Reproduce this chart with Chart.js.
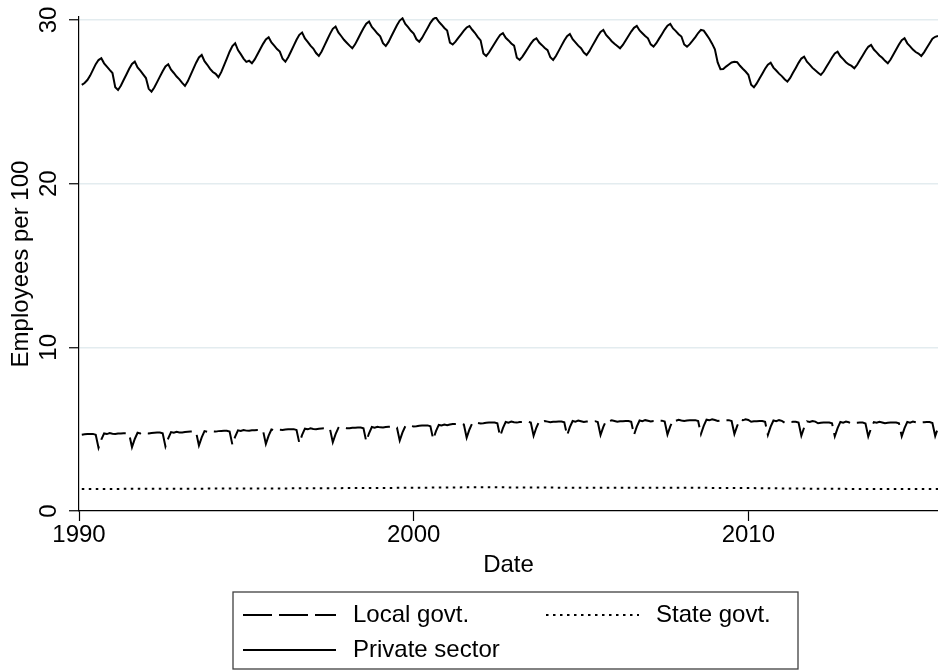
<!DOCTYPE html>
<html>
<head>
<meta charset="utf-8">
<script src="https://cdn.jsdelivr.net/npm/chart.js@4.4.0/dist/chart.umd.min.js"></script>
<style>
  body { margin: 0; background: #fff; }
  #wrap { width: 938px; height: 670px; position: relative; }
</style>
</head>
<body>
<div id="wrap"><canvas id="chart"></canvas></div>
<script>
const startYear = 1990;
const xTicks = [1990, 2000, 2010];
const yTicks = [0, 10, 20, 30];
const seriesNames = ['Local govt.', 'State govt.', 'Private sector'];

// monthly readings, Jan 1990 .. Aug 2015, one row per year
const localGovt = [
  4.66, 4.69, 4.70, 4.71, 4.71, 4.66, 3.86, 4.36, 4.74, 4.70, 4.76, 4.72,
  4.70, 4.73, 4.74, 4.75, 4.75, 4.70, 3.90, 4.40, 4.78, 4.74, 4.80, 4.76,
  4.74, 4.77, 4.78, 4.79, 4.79, 4.74, 3.94, 4.44, 4.82, 4.78, 4.84, 4.80,
  4.80, 4.83, 4.84, 4.85, 4.85, 4.80, 4.00, 4.50, 4.88, 4.84, 4.90, 4.86,
  4.85, 4.88, 4.89, 4.90, 4.90, 4.85, 4.05, 4.55, 4.93, 4.89, 4.95, 4.91,
  4.90, 4.93, 4.94, 4.95, 4.95, 4.90, 4.10, 4.60, 4.98, 4.94, 5.00, 4.96,
  4.95, 4.98, 4.99, 5.00, 5.00, 4.95, 4.15, 4.65, 5.03, 4.99, 5.05, 5.01,
  5.00, 5.03, 5.04, 5.05, 5.05, 5.00, 4.20, 4.70, 5.08, 5.04, 5.10, 5.06,
  5.05, 5.08, 5.09, 5.10, 5.10, 5.05, 4.25, 4.75, 5.13, 5.09, 5.15, 5.11,
  5.10, 5.13, 5.14, 5.15, 5.15, 5.10, 4.30, 4.80, 5.18, 5.14, 5.20, 5.16,
  5.18, 5.21, 5.22, 5.23, 5.23, 5.18, 4.38, 4.88, 5.26, 5.22, 5.28, 5.24,
  5.28, 5.31, 5.32, 5.33, 5.33, 5.28, 4.48, 4.98, 5.36, 5.32, 5.38, 5.34,
  5.36, 5.39, 5.40, 5.41, 5.41, 5.36, 4.56, 5.06, 5.44, 5.40, 5.46, 5.42,
  5.40, 5.43, 5.44, 5.45, 5.45, 5.40, 4.60, 5.10, 5.48, 5.44, 5.50, 5.46,
  5.42, 5.45, 5.46, 5.47, 5.47, 5.42, 4.62, 5.12, 5.50, 5.46, 5.52, 5.48,
  5.44, 5.47, 5.48, 5.49, 5.49, 5.44, 4.64, 5.14, 5.52, 5.48, 5.54, 5.50,
  5.45, 5.48, 5.49, 5.50, 5.50, 5.45, 4.65, 5.15, 5.53, 5.49, 5.55, 5.51,
  5.47, 5.50, 5.51, 5.52, 5.52, 5.47, 4.67, 5.17, 5.55, 5.51, 5.57, 5.53,
  5.50, 5.53, 5.54, 5.55, 5.55, 5.50, 4.70, 5.20, 5.58, 5.54, 5.60, 5.56,
  5.50, 5.53, 5.54, 5.55, 5.55, 5.50, 4.70, 5.20, 5.58, 5.54, 5.60, 5.56,
  5.45, 5.48, 5.49, 5.50, 5.50, 5.45, 4.65, 5.15, 5.53, 5.49, 5.55, 5.51,
  5.40, 5.43, 5.44, 5.45, 5.45, 5.40, 4.60, 5.10, 5.48, 5.44, 5.50, 5.46,
  5.36, 5.39, 5.40, 5.41, 5.41, 5.36, 4.56, 5.06, 5.44, 5.40, 5.46, 5.42,
  5.35, 5.38, 5.39, 5.40, 5.40, 5.35, 4.55, 5.05, 5.43, 5.39, 5.45, 5.41,
  5.36, 5.39, 5.40, 5.41, 5.41, 5.36, 4.56, 5.06, 5.44, 5.40, 5.46, 5.42,
  5.38, 5.41, 5.42, 5.43, 5.43, 5.38, 4.58, 5.08
];

const privateSector = [
  26.03, 26.15, 26.33, 26.60, 26.95, 27.30, 27.55, 27.66, 27.35, 27.15, 26.95, 26.76,
  25.89, 25.72, 25.98, 26.33, 26.67, 27.02, 27.31, 27.45, 27.10, 26.90, 26.67, 26.45,
  25.79, 25.62, 25.87, 26.20, 26.54, 26.87, 27.16, 27.29, 26.96, 26.76, 26.54, 26.37,
  26.16, 25.97, 26.25, 26.63, 27.01, 27.39, 27.71, 27.86, 27.48, 27.26, 27.01, 26.82,
  26.71, 26.50, 26.81, 27.23, 27.64, 28.06, 28.41, 28.58, 28.16, 27.91, 27.64, 27.44,
  27.51, 27.35, 27.59, 27.91, 28.22, 28.54, 28.81, 28.94, 28.62, 28.43, 28.22, 28.07,
  27.63, 27.45, 27.72, 28.07, 28.43, 28.79, 29.09, 29.23, 28.87, 28.66, 28.43, 28.25,
  27.98, 27.80, 28.07, 28.43, 28.79, 29.15, 29.46, 29.60, 29.24, 29.02, 28.79, 28.61,
  28.43, 28.27, 28.51, 28.84, 29.17, 29.49, 29.77, 29.90, 29.57, 29.38, 29.17, 29.00,
  28.58, 28.41, 28.66, 29.00, 29.34, 29.68, 29.96, 30.10, 29.76, 29.56, 29.34, 29.17,
  28.82, 28.67, 28.90, 29.21, 29.51, 29.82, 30.05, 30.15, 29.89, 29.71, 29.51, 29.36,
  28.61, 28.50, 28.67, 28.90, 29.12, 29.35, 29.54, 29.63, 29.40, 29.20, 28.95, 28.75,
  27.95, 27.80, 28.01, 28.29, 28.56, 28.84, 29.08, 29.19, 28.91, 28.75, 28.56, 28.43,
  27.69, 27.56, 27.76, 28.02, 28.29, 28.55, 28.77, 28.88, 28.62, 28.46, 28.29, 28.15,
  27.72, 27.56, 27.80, 28.11, 28.43, 28.75, 29.01, 29.14, 28.82, 28.63, 28.43, 28.27,
  28.01, 27.86, 28.09, 28.40, 28.70, 29.01, 29.27, 29.39, 29.08, 28.90, 28.70, 28.55,
  28.41, 28.27, 28.47, 28.75, 29.02, 29.29, 29.52, 29.63, 29.36, 29.19, 29.02, 28.88,
  28.51, 28.37, 28.58, 28.86, 29.13, 29.41, 29.65, 29.76, 29.48, 29.32, 29.13, 28.99,
  28.50, 28.37, 28.52, 28.73, 28.95, 29.20, 29.39, 29.35, 29.10, 28.85, 28.55, 28.20,
  27.40, 26.99, 27.00, 27.15, 27.28, 27.40, 27.45, 27.42, 27.20, 27.02, 26.85, 26.65,
  26.04, 25.89, 26.12, 26.42, 26.72, 27.02, 27.27, 27.39, 27.09, 26.91, 26.72, 26.57,
  26.38, 26.23, 26.46, 26.77, 27.07, 27.38, 27.64, 27.76, 27.45, 27.27, 27.07, 26.92,
  26.78, 26.64, 26.85, 27.14, 27.42, 27.71, 27.95, 28.06, 27.78, 27.61, 27.42, 27.28,
  27.19, 27.05, 27.26, 27.55, 27.83, 28.12, 28.36, 28.47, 28.19, 28.02, 27.83, 27.69,
  27.50, 27.35, 27.58, 27.89, 28.19, 28.50, 28.76, 28.88, 28.57, 28.39, 28.19, 28.04,
  27.95, 27.80, 28.02, 28.30, 28.58, 28.85, 28.97, 29.02
];

// state govt is almost flat, so one reading a year (month index from Jan 1990)
const stateMonth = [0, 12, 24, 36, 48, 60, 72, 84, 96, 108, 120, 132, 144, 156,
  168, 180, 192, 204, 216, 228, 240, 252, 264, 276, 288, 300, 307];
const stateGovt = [1.34, 1.35, 1.36, 1.36, 1.37, 1.38, 1.38, 1.39, 1.40, 1.41, 1.42,
  1.44, 1.45, 1.44, 1.43, 1.42, 1.42, 1.42, 1.42, 1.41, 1.40, 1.38, 1.36, 1.35,
  1.34, 1.34, 1.34];

function monthDate(i) {
  return startYear + (i + 1) / 12;
}

function toPoints(vals, idx) {
  return vals.map((v, k) => ({ x: monthDate(idx ? idx[k] : k), y: v }));
}

const FONT = '"Liberation Sans", Arial, Helvetica, sans-serif';
Chart.defaults.font.family = FONT;
Chart.defaults.font.size = 24;
Chart.defaults.color = '#000';

// stata style legend: framed box, two columns
const boxLegend = {
  id: 'boxLegend',
  afterDraw(chart) {
    const ctx = chart.ctx;
    const box = { left: 233, top: 592, right: 798, bottom: 669 };
    const keyW = 93, textGap = 17;
    const slots = [
      { ds: 0, x: 243, y: 615 },
      { ds: 1, x: 546, y: 615 },
      { ds: 2, x: 243, y: 650 }
    ];
    ctx.save();
    ctx.strokeStyle = '#404040';
    ctx.lineWidth = 1.3;
    ctx.strokeRect(box.left, box.top, box.right - box.left, box.bottom - box.top);
    slots.forEach(s => {
      const ds = chart.data.datasets[s.ds];
      ctx.setLineDash(ds.borderDash || []);
      ctx.lineWidth = ds.borderWidth;
      ctx.strokeStyle = ds.borderColor;
      ctx.beginPath();
      ctx.moveTo(s.x, s.y);
      ctx.lineTo(s.x + keyW, s.y);
      ctx.stroke();
      ctx.setLineDash([]);
      ctx.fillStyle = '#000';
      ctx.font = '24px ' + FONT;
      ctx.textBaseline = 'middle';
      ctx.textAlign = 'left';
      ctx.fillText(ds.label, s.x + keyW + textGap, s.y);
    });
    ctx.restore();
  }
};

const lineStyle = { borderColor: '#000', borderWidth: 2, pointRadius: 0, tension: 0, fill: false };

new Chart(document.getElementById('chart'), {
  type: 'line',
  data: {
    datasets: [
      Object.assign({ label: seriesNames[0], data: toPoints(localGovt), borderDash: [29, 7] }, lineStyle),
      Object.assign({ label: seriesNames[1], data: toPoints(stateGovt, stateMonth), borderDash: [2.5, 4.5] }, lineStyle),
      Object.assign({ label: seriesNames[2], data: toPoints(privateSector) }, lineStyle)
    ]
  },
  options: {
    responsive: true,
    maintainAspectRatio: false,
    animation: false,
    layout: { padding: { top: 17, right: 0, bottom: 90, left: 0 } },
    plugins: { legend: { display: false }, tooltip: { enabled: false } },
    scales: {
      x: {
        type: 'linear',
        min: startYear,
        max: monthDate(privateSector.length - 1),
        afterBuildTicks: s => { s.ticks = xTicks.map(v => ({ value: v })); },
        afterFit: s => { s.height = 69; s.paddingLeft = 0; s.paddingRight = 0; },
        ticks: { padding: 0, maxRotation: 0, autoSkip: false, callback: v => String(v) },
        grid: { drawOnChartArea: false, tickLength: 10, tickColor: '#000', tickWidth: 1.2 },
        border: { color: '#000', width: 1.2 },
        title: { display: true, text: 'Date', padding: { top: 0, bottom: 0 } }
      },
      y: {
        min: 0,
        max: 30.18,
        afterBuildTicks: s => { s.ticks = yTicks.map(v => ({ value: v })); },
        afterFit: s => { s.width = 79; s.paddingTop = 0; s.paddingBottom = 0; },
        ticks: { minRotation: 90, maxRotation: 90, crossAlign: 'center', padding: 6, callback: v => String(v) },
        grid: {
          color: c => (c.tick && c.tick.value === 0) ? 'rgba(0,0,0,0)' : '#e3ecef',
          lineWidth: 1.5,
          tickLength: 10,
          tickColor: '#000',
          tickWidth: 1.2
        },
        border: { color: '#000', width: 1.2 },
        title: { display: true, text: 'Employees per 100', padding: { top: 7, bottom: 0 } }
      }
    }
  },
  plugins: [boxLegend]
});
</script>
</body>
</html>
